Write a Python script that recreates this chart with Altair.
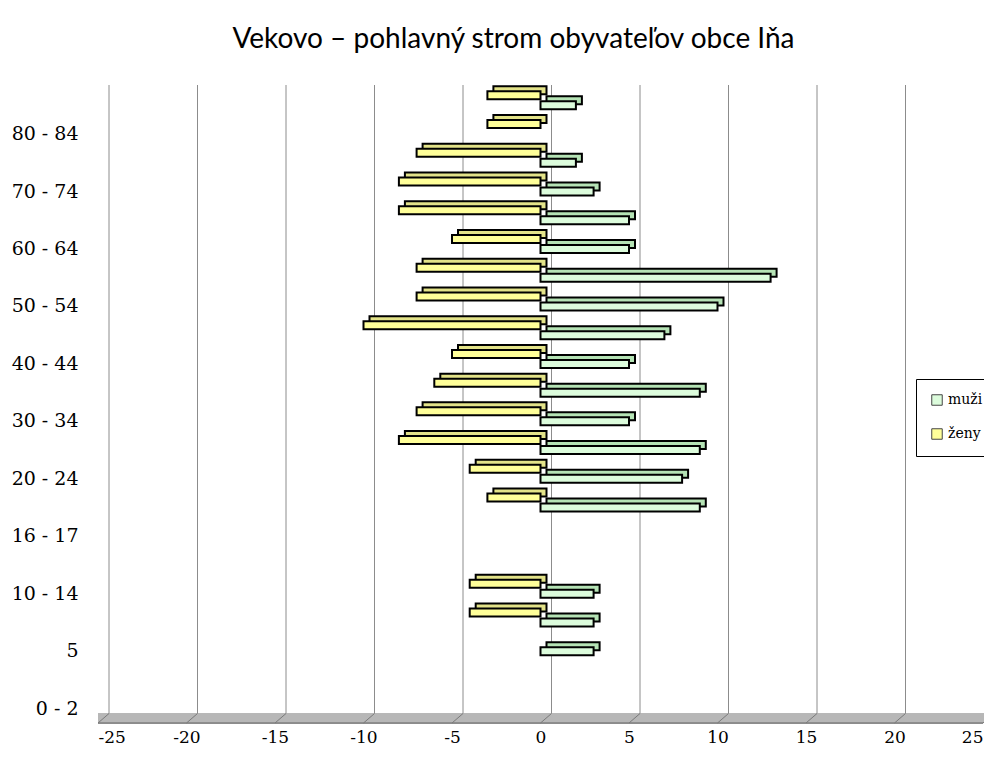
import altair as alt
import pandas as pd

# ---- data (bottom -> top) ----
ages = ["0 - 2", "3 - 4", "5", "6 - 9", "10 - 14", "15", "16 - 17", "18 - 19",
        "20 - 24", "25 - 29", "30 - 34", "35 - 39", "40 - 44", "45 - 49",
        "50 - 54", "55 - 59", "60 - 64", "65 - 69", "70 - 74", "75 - 79",
        "80 - 84", "85+"]
muzi = [0, 0, 3, 3, 3, 0, 0, 9, 8, 9, 5, 9, 5, 7, 10, 13, 5, 5, 3, 2, 0, 2]
zeny = [0, 0, 0, -4, -4, 0, 0, -3, -4, -8, -7, -6, -5, -10, -7, -7, -5, -8, -8, -7, -3, -3]
shown_labels = ages[0::2][:11]
x_ticks = [-25, -20, -15, -10, -5, 0, 5, 10, 15, 20, 25]
series = ["muži", "ženy"]
front_colors = ["#DCFCDC", "#FFFF99"]
shade_colors = ["#B5E3B5", "#E3E389"]

rows = []
for a, m, z in zip(ages, muzi, zeny):
    if m != 0:
        rows.append({"vek": a, "pohlavie": "muži", "hodnota": m, "shade": shade_colors[0]})
    if z != 0:
        rows.append({"vek": a, "pohlavie": "ženy", "hodnota": z, "shade": shade_colors[1]})
df = pd.DataFrame(rows)
ticks_df = pd.DataFrame({"t": x_ticks})

W, H = 885, 632
FLOOR_TOP = H - 9.5
DEPTH_X = 11
LABEL_FONT = "DejaVu Serif"

xscale = alt.Scale(domain=[-25, 25], nice=False, zero=False)
yscale = alt.Scale(domain=list(reversed(ages)), paddingInner=0, paddingOuter=0)
color_scale = alt.Scale(domain=series, range=front_colors)

x_axis = alt.Axis(values=x_ticks, labelExpr="datum.value + ''", domain=False, ticks=False,
                  grid=False, title=None, labelFont=LABEL_FONT, labelFontSize=17,
                  labelColor="black", labelPadding=6)
y_axis = alt.Axis(values=shown_labels, domain=False, ticks=False, grid=False, title=None,
                  labelFont=LABEL_FONT, labelFontSize=19, labelColor="black",
                  labelPadding=20, labelAlign="right", labelBaseline="middle")

legend = alt.Legend(title=None, orient="none", legendX=818, legendY=288,
                    labelFont=LABEL_FONT, labelFontSize=14, labelColor="black",
                    symbolType="square", symbolSize=110, symbolStrokeColor="#444",
                    symbolStrokeWidth=1, rowPadding=18, padding=14,
                    strokeColor="black", fillColor="white", labelOffset=4)

grid = alt.Chart(ticks_df).mark_rule(color="#8C8C8C", strokeWidth=1, xOffset=DEPTH_X).encode(
    x=alt.X("t:Q", scale=xscale, axis=x_axis),
    y=alt.value(-6),
    y2=alt.value(FLOOR_TOP),
)

floor = alt.Chart(ticks_df).mark_rect(color="#B7B7B7", x2Offset=DEPTH_X).encode(
    x=alt.datum(-25),
    x2=alt.datum(25),
    y=alt.value(FLOOR_TOP),
    y2=alt.value(H),
)
floor_edge = alt.Chart(ticks_df).mark_rule(color="#8C8C8C", strokeWidth=1).encode(
    x=alt.datum(-25), x2=alt.datum(25), y=alt.value(H)
)
floor_ticks = alt.Chart(ticks_df).mark_rule(color="#7A7A7A", strokeWidth=1, x2Offset=DEPTH_X).encode(
    x=alt.X("t:Q"), x2=alt.X2("t"), y=alt.value(H), y2=alt.value(FLOOR_TOP)
)


def bar_layers(name, front_off):
    d = alt.Chart(df).transform_filter(alt.datum.pohlavie == name)
    shade = d.mark_bar(height=8, yOffset=front_off - 5, xOffset=6, stroke="black",
                       strokeWidth=2).encode(
        x=alt.X("hodnota:Q", scale=xscale),
        y=alt.Y("vek:N", scale=yscale, axis=y_axis),
        fill=alt.Fill("shade:N", scale=None),
    )
    front = d.mark_bar(height=8, yOffset=front_off, stroke="black", strokeWidth=2).encode(
        x=alt.X("hodnota:Q", scale=xscale),
        y=alt.Y("vek:N", scale=yscale, axis=y_axis),
        color=alt.Color("pohlavie:N", scale=color_scale, legend=legend),
    )
    return [shade, front]


layers = [floor, floor_edge, floor_ticks, grid] + bar_layers("ženy", -10) + bar_layers("muži", 0)

chart = alt.layer(*layers).properties(
    width=W, height=H,
    title=alt.TitleParams("Vekovo – pohlavný strom obyvateľov obce Iňa", font="Lato",
                          fontSize=28, fontWeight="normal", color="black",
                          anchor="middle", frame="group", dx=-27, offset=31),
    autosize=alt.AutoSizeParams(type="none"),
    padding={"left": 90, "top": 83, "right": 1, "bottom": 36},
).configure(background="white").configure_view(stroke=None)

chart.save("out.html", embed_options={"renderer": "svg", "actions": False})
